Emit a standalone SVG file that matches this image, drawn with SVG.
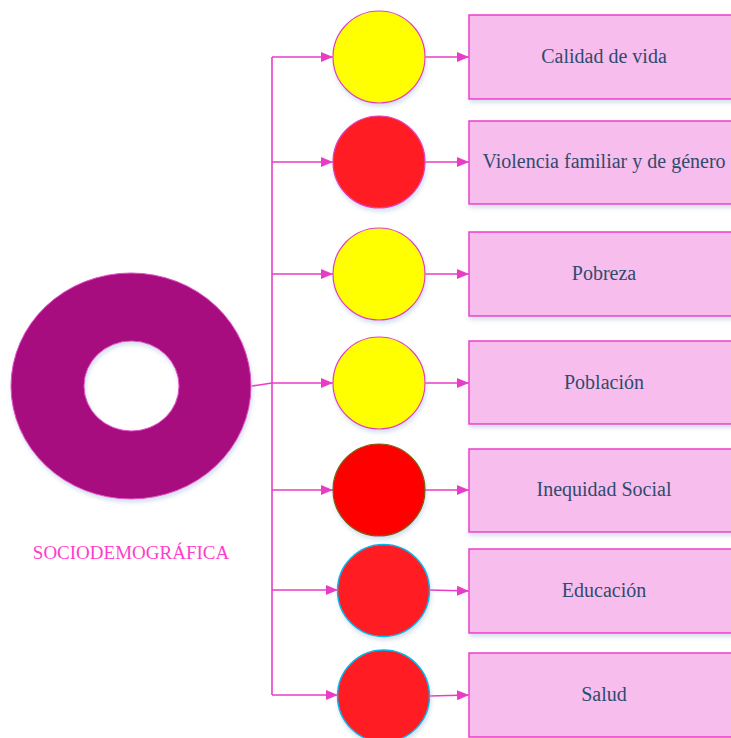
<svg xmlns="http://www.w3.org/2000/svg" width="731" height="738" viewBox="0 0 731 738">
<style>
.ln{fill:none;stroke:#e93cc6;stroke-width:1.6}
.bx{fill:#f7bdec;stroke:#ee3ccc;stroke-width:1.5}
.c{stroke:#e040c0;stroke-width:1.2}
.y{fill:#ffff00}
.r{fill:#ff1f24}
.t{font-family:"Liberation Serif",serif;font-size:20px;fill:#2f4b6e;text-anchor:middle}
</style>
<defs>
<marker id="ah" markerWidth="12" markerHeight="10" refX="12" refY="5" orient="auto" markerUnits="userSpaceOnUse">
<path d="M0,0 L12,5 L0,10 Z" fill="#e93cc6"/>
</marker>
<filter id="sh" x="-10%" y="-10%" width="130%" height="130%">
<feDropShadow dx="1" dy="3" stdDeviation="2" flood-color="#9fb8d8" flood-opacity="0.45"/>
</filter>
</defs>
<g id="connectors">
<path class="ln" d="M252,386 L272,383"/>
<path class="ln" d="M272,57 L272,695"/>
<path class="ln" d="M272,57 H333" marker-end="url(#ah)"/>
<path class="ln" d="M272,162 H333" marker-end="url(#ah)"/>
<path class="ln" d="M272,274 H333" marker-end="url(#ah)"/>
<path class="ln" d="M272,383 H333" marker-end="url(#ah)"/>
<path class="ln" d="M272,490 H333" marker-end="url(#ah)"/>
<path class="ln" d="M272,590 H338" marker-end="url(#ah)"/>
<path class="ln" d="M272,695 H338" marker-end="url(#ah)"/>
<path class="ln" d="M425,57 H469" marker-end="url(#ah)"/>
<path class="ln" d="M425,162 H469" marker-end="url(#ah)"/>
<path class="ln" d="M425,274 H469" marker-end="url(#ah)"/>
<path class="ln" d="M425,383 H469" marker-end="url(#ah)"/>
<path class="ln" d="M425,490 H469" marker-end="url(#ah)"/>
<path class="ln" d="M429,590 L469,591" marker-end="url(#ah)"/>
<path class="ln" d="M429,696 L469,695" marker-end="url(#ah)"/>
</g>
<g id="sociodemografica">
<path filter="url(#sh)" fill="#a8107f" fill-rule="evenodd" stroke="#e050c8" stroke-width="1" d="M11,386 a120,113 0 1,0 240,0 a120,113 0 1,0 -240,0 Z M84,386 a47.5,45 0 1,0 95,0 a47.5,45 0 1,0 -95,0 Z"/>
<text x="131" y="559" style="font-family:'Liberation Serif',serif;font-size:19px;fill:#ff3dcc;text-anchor:middle">SOCIODEMOGRÁFICA</text>
</g>
<g id="circle1"><circle class="c y" cx="379" cy="57" r="46" filter="url(#sh)"/></g>
<g id="circle2"><circle class="c r" cx="379" cy="162" r="46" filter="url(#sh)"/></g>
<g id="circle3"><circle class="c y" cx="379" cy="274" r="46" filter="url(#sh)"/></g>
<g id="circle4"><circle class="c y" cx="379" cy="383" r="46" filter="url(#sh)"/></g>
<g id="circle5"><circle cx="379" cy="490" r="46" fill="#ff0000" stroke="#7f6000" stroke-width="1.2" filter="url(#sh)"/></g>
<g id="circle6"><circle class="r" cx="383.5" cy="590.5" r="46" stroke="#00b8f0" stroke-width="1.5" filter="url(#sh)"/></g>
<g id="circle7"><circle class="r" cx="383.5" cy="696" r="46" stroke="#00b8f0" stroke-width="1.5" filter="url(#sh)"/></g>
<g id="box1"><rect class="bx" x="469" y="15" width="275" height="84" filter="url(#sh)"/><text class="t" x="604" y="63">Calidad de vida</text></g>
<g id="box2"><rect class="bx" x="469" y="121" width="275" height="83" filter="url(#sh)"/><text class="t" x="604" y="168">Violencia familiar y de género</text></g>
<g id="box3"><rect class="bx" x="469" y="232" width="275" height="84" filter="url(#sh)"/><text class="t" x="604" y="280">Pobreza</text></g>
<g id="box4"><rect class="bx" x="469" y="341" width="275" height="83" filter="url(#sh)"/><text class="t" x="604" y="389">Población</text></g>
<g id="box5"><rect class="bx" x="469" y="449" width="275" height="83" filter="url(#sh)"/><text class="t" x="604" y="496">Inequidad Social</text></g>
<g id="box6"><rect class="bx" x="469" y="549" width="275" height="84" filter="url(#sh)"/><text class="t" x="604" y="597">Educación</text></g>
<g id="box7"><rect class="bx" x="469" y="653" width="275" height="84" filter="url(#sh)"/><text class="t" x="604" y="701">Salud</text></g>
</svg>
